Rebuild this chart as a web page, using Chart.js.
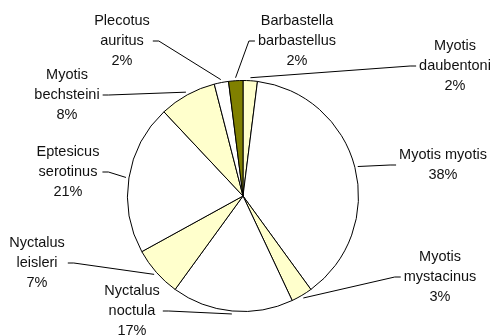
<!DOCTYPE html>
<html>
<head>
<meta charset="utf-8">
<script src="https://cdn.jsdelivr.net/npm/chart.js@4/dist/chart.umd.min.js"></script>
<style>
  body { margin: 0; background: #fff; }
  #wrap { width: 491px; height: 335px; }
</style>
</head>
<body>
<div id="wrap"><canvas id="bats" width="491" height="335"></canvas></div>
<script>
// species, clockwise from 12 o'clock
const species = [
    ['Myotis', 'daubentoni'],
    ['Myotis myotis'],
    ['Myotis', 'mystacinus'],
    ['Nyctalus', 'noctula'],
    ['Nyctalus', 'leisleri'],
    ['Eptesicus', 'serotinus'],
    ['Myotis', 'bechsteini'],
    ['Plecotus', 'auritus'],
    ['Barbastella', 'barbastellus']
];
const shares = [2, 38, 3, 17, 7, 21, 8, 2, 2];
const sliceColors = ['#FFFFCC', '#FFFFFF', '#FFFFCC', '#FFFFFF', '#FFFFCC', '#FFFFFF', '#FFFFCC', '#FFFFFF', '#808000'];

// where each label block sits (centre x, centre y)
const labelSpots = [
    [455, 66], [443, 165], [440, 277], [132, 311], [37, 263],
    [68, 172], [67, 95], [122, 41], [297, 41]
];

const FONT = '14.5px "Liberation Sans", Arial, sans-serif';
const LINE_H = 20;

const outsideLabels = {
    id: 'outsideLabels',
    afterDraw(chart) {
        const ctx = chart.ctx;
        const arcs = chart.getDatasetMeta(0).data;
        ctx.save();
        ctx.font = FONT;
        ctx.textAlign = 'center';
        ctx.textBaseline = 'middle';
        arcs.forEach((arc, i) => {
            const lines = species[i].concat([shares[i] + '%']);
            const [cx, cy] = labelSpots[i];
            const top = cy - (lines.length - 1) * LINE_H / 2;
            ctx.fillStyle = '#111';
            lines.forEach((t, k) => ctx.fillText(t, cx, top + k * LINE_H));

            // leader line from label box edge to the slice middle
            const mid = (arc.startAngle + arc.endAngle) / 2;
            const r = arc.outerRadius + 3;
            const ax = arc.x + Math.cos(mid) * r;
            const ay = arc.y + Math.sin(mid) * r;
            const half = Math.max(...lines.map(t => ctx.measureText(t).width)) / 2 + 3;
            const dir = ax > cx ? 1 : -1;
            const sx = cx + dir * half;
            ctx.strokeStyle = '#000';
            ctx.lineWidth = 1;
            ctx.beginPath();
            ctx.moveTo(sx, cy);
            ctx.lineTo(sx + dir * 6, cy);
            ctx.lineTo(ax, ay);
            ctx.stroke();
        });
        ctx.restore();
    }
};

new Chart(document.getElementById('bats'), {
    type: 'pie',
    data: {
        labels: species,
        datasets: [{
            data: shares,
            backgroundColor: sliceColors,
            borderColor: '#000',
            borderWidth: 1
        }]
    },
    options: {
        responsive: false,
        animation: false,
        layout: { padding: { top: 80, bottom: 23, left: 0, right: 5 } },
        plugins: {
            legend: { display: false },
            tooltip: { enabled: false }
        }
    },
    plugins: [outsideLabels]
});
</script>
</body>
</html>
